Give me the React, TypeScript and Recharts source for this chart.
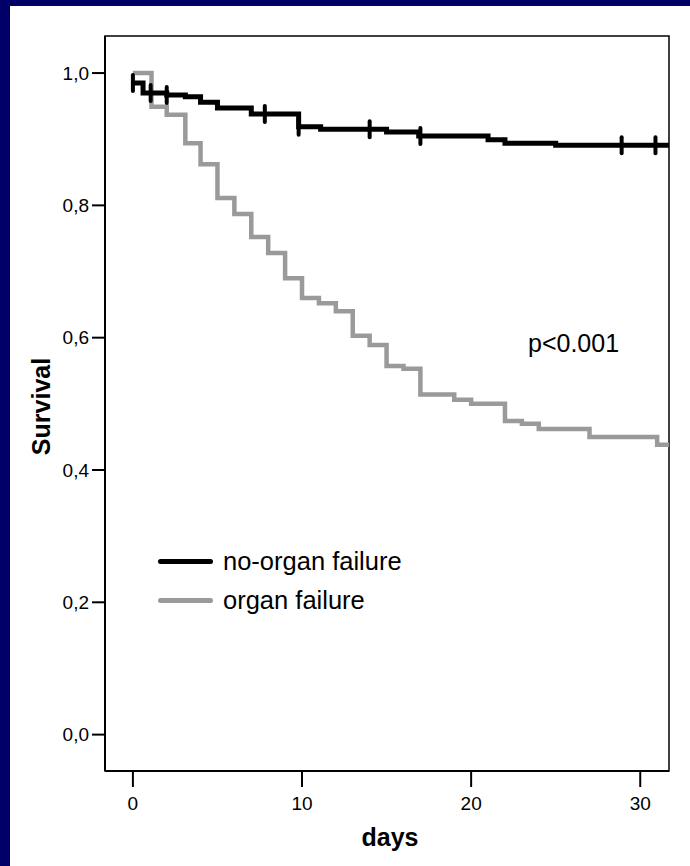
import {
  ComposedChart,
  Line,
  Scatter,
  XAxis,
  YAxis,
  ReferenceArea,
  Legend,
  Customized,
  Label,
} from "recharts";

const NAVY = "#000068";
const FONT = '"Liberation Sans", Arial, sans-serif';

const X_MIN = -1.65;
const X_MAX = 31.7;
const Y_MIN = -0.055;
const Y_MAX = 1.056;
const X_TICKS = [0, 10, 20, 30];
const Y_TICKS = [0, 0.2, 0.4, 0.6, 0.8, 1.0];

// no-organ failure: step times (days) and survival after each step
const NOF_DAYS = [0, 0.6, 2.0, 3.1, 4.0, 5.0, 7.0, 9.8, 11.1, 15.0, 16.9, 21.0, 22.0, 25.0, 31.7];
const NOF_SURV = [0.985, 0.97, 0.967, 0.964, 0.956, 0.947, 0.938, 0.919, 0.915, 0.911, 0.905, 0.899, 0.894, 0.891, 0.891];
// censored observations
const NOF_CENSOR_DAYS = [0, 1.05, 2.0, 7.8, 9.8, 14.0, 17.0, 28.9, 30.9];
const NOF_CENSOR_SURV = [0.985, 0.97, 0.967, 0.938, 0.919, 0.915, 0.905, 0.891, 0.891];

// organ failure
const OF_DAYS = [0, 1.1, 2.0, 3.1, 4.0, 5.0, 6.0, 7.0, 8.0, 9.0, 10.0, 11.0, 12.0, 13.0, 14.0, 15.0, 16.0, 17.0, 19.0, 20.0, 22.0, 23.0, 24.0, 27.0, 31.0, 31.7];
const OF_SURV = [1.0, 0.949, 0.937, 0.894, 0.862, 0.811, 0.787, 0.752, 0.728, 0.69, 0.66, 0.652, 0.64, 0.603, 0.589, 0.557, 0.553, 0.514, 0.506, 0.5, 0.474, 0.47, 0.462, 0.45, 0.438, 0.438];

const LEGEND_ORDER = ["no-organ failure", "organ failure"];

const zip = (days: number[], surv: number[]) =>
  days.map((d, i) => ({ day: d, surv: surv[i] }));

const nofData = zip(NOF_DAYS, NOF_SURV);
const nofCensored = zip(NOF_CENSOR_DAYS, NOF_CENSOR_SURV);
const ofData = zip(OF_DAYS, OF_SURV);

const fmtY = (v: number) => v.toFixed(1).replace(".", ",");

// small vertical tick for a censored case
const CensorMark = (props: any) => {
  const { cx, cy } = props;
  return (
    <line
      x1={cx}
      x2={cx}
      y1={cy - 8}
      y2={cy + 8}
      stroke="#000"
      strokeWidth={4}
      strokeLinecap="round"
    />
  );
};

const LegendBox = (props: any) => {
  const items = (props.payload || [])
    .filter((p: any) => LEGEND_ORDER.includes(p.value))
    .sort((a: any, b: any) => LEGEND_ORDER.indexOf(a.value) - LEGEND_ORDER.indexOf(b.value));
  return (
    <div style={{ fontFamily: FONT }}>
      {items.map((item: any) => (
        <div key={item.value} style={{ display: "flex", alignItems: "center", height: 39 }}>
          <span
            style={{
              display: "inline-block",
              width: 55,
              height: 5,
              borderRadius: 3,
              background: item.color,
            }}
          />
          <span style={{ marginLeft: 10, fontSize: 25.5, color: "#000" }}>{item.value}</span>
        </div>
      ))}
    </div>
  );
};

const PValue = () => (
  <text x={518} y={346} fontSize={25} fill="#000" fontFamily={FONT}>
    p&lt;0.001
  </text>
);

export default function App() {
  return (
    <div
      style={{
        position: "fixed",
        left: 0,
        top: 0,
        width: 720,
        height: 900,
        background: "#fff",
        borderLeft: `10px solid ${NAVY}`,
        borderTop: `6px solid ${NAVY}`,
      }}
    >
      <ComposedChart
        width={680}
        height={860}
        margin={{ top: 30, right: 21, bottom: 0, left: 0 }}
        style={{ fontFamily: FONT }}
      >
        <XAxis
          type="number"
          dataKey="day"
          domain={[X_MIN, X_MAX]}
          ticks={X_TICKS}
          allowDataOverflow
          height={95}
          tickSize={16}
          tickMargin={10}
          axisLine={{ stroke: "#000", strokeWidth: 2 }}
          tickLine={{ stroke: "#000", strokeWidth: 2 }}
          tick={{ fill: "#000", fontSize: 19 }}
        >
          <Label
            content={({ viewBox }: any) => (
              <text
                x={viewBox.x + viewBox.width / 2 + 3}
                y={viewBox.y + 66}
                textAnchor="middle"
                dominantBaseline="central"
                fontSize={25}
                fontWeight="bold"
                fill="#000"
                fontFamily={FONT}
              >
                days
              </text>
            )}
          />
        </XAxis>
        <YAxis
          type="number"
          dataKey="surv"
          domain={[Y_MIN, Y_MAX]}
          ticks={Y_TICKS}
          allowDataOverflow
          width={95}
          tickSize={13}
          tickMargin={3}
          tickFormatter={fmtY}
          axisLine={{ stroke: "#000", strokeWidth: 2 }}
          tickLine={{ stroke: "#000", strokeWidth: 2 }}
          tick={{ fill: "#000", fontSize: 19 }}
        >
          <Label
            content={({ viewBox }: any) => {
              const cx = viewBox.x + 31;
              const cy = viewBox.y + viewBox.height / 2 + 3;
              return (
                <text
                  x={cx}
                  y={cy}
                  transform={`rotate(-90 ${cx} ${cy})`}
                  textAnchor="middle"
                  dominantBaseline="central"
                  fontSize={25}
                  fontWeight="bold"
                  fill="#000"
                  fontFamily={FONT}
                >
                  Survival
                </text>
              );
            }}
          />
        </YAxis>
        <ReferenceArea
          x1={X_MIN}
          x2={X_MAX}
          y1={Y_MIN}
          y2={Y_MAX}
          fill="none"
          stroke="#000"
          strokeWidth={1.5}
        />
        <Line
          data={ofData}
          dataKey="surv"
          name="organ failure"
          type="stepAfter"
          stroke="#9a9a9a"
          strokeWidth={4.5}
          dot={false}
          activeDot={false}
          isAnimationActive={false}
        />
        <Line
          data={nofData}
          dataKey="surv"
          name="no-organ failure"
          type="stepAfter"
          stroke="#000"
          strokeWidth={5}
          dot={false}
          activeDot={false}
          isAnimationActive={false}
        />
        <Scatter
          data={nofCensored}
          dataKey="surv"
          name="censored"
          legendType="none"
          shape={CensorMark}
          isAnimationActive={false}
        />
        <Legend
          layout="horizontal"
          verticalAlign="middle"
          align="center"
          content={LegendBox}
          wrapperStyle={{ left: 148, top: 536, width: "auto" }}
        />
        <Customized component={PValue} />
      </ComposedChart>
    </div>
  );
}
